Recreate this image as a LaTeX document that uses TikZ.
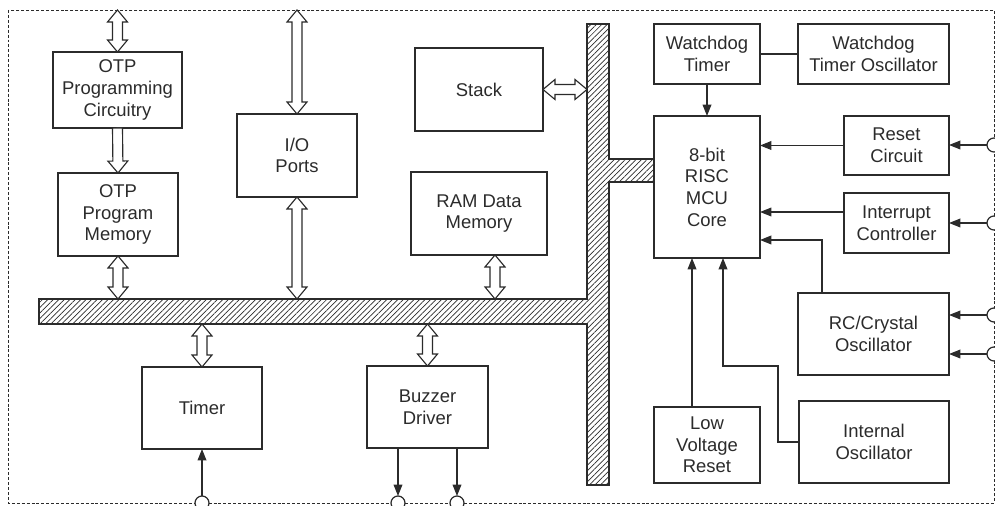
\documentclass[tikz,border=0pt]{standalone}
\usepackage{fontspec}
\setmainfont{Liberation Sans}
\usetikzlibrary{arrows.meta,calc,patterns.meta}
\definecolor{ink}{rgb}{0.17,0.17,0.17}
\tikzset{
  block/.style={draw=ink, line width=0.7pt, align=center, inner sep=0pt,
    outer sep=0pt, text=ink, font=\fontsize{10.5}{12.3}\selectfont},
  sig/.style={draw=ink, line width=0.7pt, -{Triangle[length=6.5pt,width=5pt]}},
  pin/.style={draw=ink, line width=0.7pt, fill=white},
  frame/.style={draw=ink, line width=0.5pt, dash pattern=on 1.7pt off 1.1pt},
  bus/.style={draw=ink, line width=0.7pt,
    pattern={Lines[angle=45,distance=2.2pt,line width=0.4pt]}, pattern color=ink},
  busarrow/.style={draw=ink, line width=0.65pt, fill=white,
    to path={let \p1=(\tikztostart), \p2=(\tikztotarget),
      \n1={atan2(\y2-\y1,\x2-\x1)} in
      (\p1) -- ($(\p1)+(\n1:0.24cm)+(\n1+90:0.2cm)$)
      -- ($(\p1)+(\n1:0.24cm)+(\n1+90:0.1cm)$)
      -- ($(\p2)+(\n1+180:0.24cm)+(\n1+90:0.1cm)$)
      -- ($(\p2)+(\n1+180:0.24cm)+(\n1+90:0.2cm)$)
      -- (\p2)
      -- ($(\p2)+(\n1+180:0.24cm)+(\n1-90:0.2cm)$)
      -- ($(\p2)+(\n1+180:0.24cm)+(\n1-90:0.1cm)$)
      -- ($(\p1)+(\n1:0.24cm)+(\n1-90:0.1cm)$)
      -- ($(\p1)+(\n1:0.24cm)+(\n1-90:0.2cm)$) -- cycle}},
  busarrowone/.style={draw=ink, line width=0.65pt, fill=white,
    to path={let \p1=(\tikztostart), \p2=(\tikztotarget),
      \n1={atan2(\y2-\y1,\x2-\x1)} in
      ($(\p1)+(\n1+90:0.1cm)$)
      -- ($(\p2)+(\n1+180:0.24cm)+(\n1+90:0.1cm)$)
      -- ($(\p2)+(\n1+180:0.24cm)+(\n1+90:0.2cm)$)
      -- (\p2)
      -- ($(\p2)+(\n1+180:0.24cm)+(\n1-90:0.2cm)$)
      -- ($(\p2)+(\n1+180:0.24cm)+(\n1-90:0.1cm)$)
      -- ($(\p1)+(\n1-90:0.1cm)$) -- cycle}},
}

\begin{document}
\begin{tikzpicture}[x=0.02cm, y=-0.02cm]
\useasboundingbox (0,0) rectangle (995,506);
\coordinate (frameNW) at (8,10);
\coordinate (frameSE) at (994,503);
\draw[frame] (frameNW) rectangle (frameSE);

% internal bus
\coordinate (busN) at (39,299);
\coordinate (busS) at (39,324);
\coordinate (busV) at (587,24);
\draw[bus] (busN) -- (587,299) -- (busV) -- (609,24) -- (609,159) -- (654,159)
  -- (654,182) -- (609,182) -- (609,485) -- (587,485) -- (587,324) -- (busS) -- cycle;

\node[block, minimum width=2.58cm, minimum height=1.52cm] (otpprog) at (117.5,90) {OTP\\Programming\\Circuitry};
\node[block, minimum width=2.4cm, minimum height=1.66cm] (otpmem) at (118,214.5) {OTP\\Program\\Memory};
\node[block, minimum width=2.4cm, minimum height=1.66cm] (ioports) at (297,155.5) {I/O\\Ports};
\node[block, minimum width=2.56cm, minimum height=1.66cm] (stack) at (479,89.5) {Stack};
\node[block, minimum width=2.72cm, minimum height=1.66cm] (ram) at (479,213.5) {RAM Data\\Memory};
\node[block, minimum width=2.4cm, minimum height=1.64cm] (timer) at (202,408) {Timer};
\node[block, minimum width=2.42cm, minimum height=1.64cm] (buzzer) at (427.5,407) {Buzzer\\Driver};
\node[block, minimum width=2.12cm, minimum height=1.2cm] (wdt) at (707,54) {Watchdog\\Timer};
\node[block, minimum width=3.02cm, minimum height=1.2cm] (wdtosc) at (873.5,54) {Watchdog\\Timer Oscillator};
\node[block, minimum width=2.12cm, minimum height=2.84cm] (mcu) at (707,187) {8-bit\\RISC\\MCU\\Core};
\node[block, minimum width=2.1cm, minimum height=1.18cm] (rstc) at (896.5,145.5) {Reset\\Circuit};
\node[block, minimum width=2.1cm, minimum height=1.2cm] (intc) at (896.5,223) {Interrupt\\Controller};
\node[block, minimum width=3.02cm, minimum height=1.64cm] (rcosc) at (873.5,334) {RC/Crystal\\Oscillator};
\node[block, minimum width=3.0cm, minimum height=1.64cm] (intosc) at (874,442) {Internal\\Oscillator};
\node[block, minimum width=2.12cm, minimum height=1.52cm] (lvr) at (707,445) {Low\\Voltage\\Reset};

% bus connections
\coordinate (ramport) at ([xshift=0.32cm]ram.south);
\draw[busarrow] (otpprog.north |- frameNW) to (otpprog.north);
\draw[busarrowone] (otpprog.south) to (otpmem.north);
\draw[busarrow] (otpmem.south) to (otpmem.south |- busN);
\draw[busarrow] (ioports.north |- frameNW) to (ioports.north);
\draw[busarrow] (ioports.south) to (ioports.south |- busN);
\draw[busarrow] (stack.east) to (stack.east -| busV);
\draw[busarrow] (ramport) to (ramport |- busN);
\draw[busarrow] (timer.north |- busS) to (timer.north);
\draw[busarrow] (buzzer.north |- busS) to (buzzer.north);

% signals
\coordinate (intout) at ([yshift=0.22cm]intc.west);
\coordinate (rcout) at ([xshift=-1.03cm]rcosc.north);
\draw[draw=ink, line width=0.7pt] (wdt) -- (wdtosc);
\draw[sig] (wdt) -- (mcu);
\draw[sig] (rstc.west) -- (rstc.west -| mcu.east);
\draw[sig] (intout) -- (intout -| mcu.east);
\draw[sig] (rcout) |- ([yshift=-1.06cm]mcu.east);
\draw[sig] ([xshift=-0.3cm]lvr.north) -- ([xshift=-0.3cm]mcu.south);
\draw[sig] (intosc.west) -| (778,366) -| ([xshift=0.32cm]mcu.south);

% pins
\coordinate (pinrst) at (994,145);
\coordinate (pinint) at (994,223);
\coordinate (pinosca) at (994,315);
\coordinate (pinoscb) at (994,354);
\coordinate (pintmr) at (202,503);
\coordinate (pinbza) at (398,503);
\coordinate (pinbzb) at (457,503);
\draw[sig] (pinrst) -- (rstc.east |- pinrst);
\draw[sig] (pinint) -- (intc.east |- pinint);
\draw[sig] (pinosca) -- (rcosc.east |- pinosca);
\draw[sig] (pinoscb) -- (rcosc.east |- pinoscb);
\draw[sig] (pintmr) -- (timer.south);
\draw[sig, shorten >=0.14cm] (buzzer.south -| pinbza) -- (pinbza);
\draw[sig, shorten >=0.14cm] (buzzer.south -| pinbzb) -- (pinbzb);
\foreach \p in {pinrst,pinint,pinosca,pinoscb,pintmr,pinbza,pinbzb}
  \draw[pin] (\p) circle (0.14cm);
\end{tikzpicture}
\end{document}
